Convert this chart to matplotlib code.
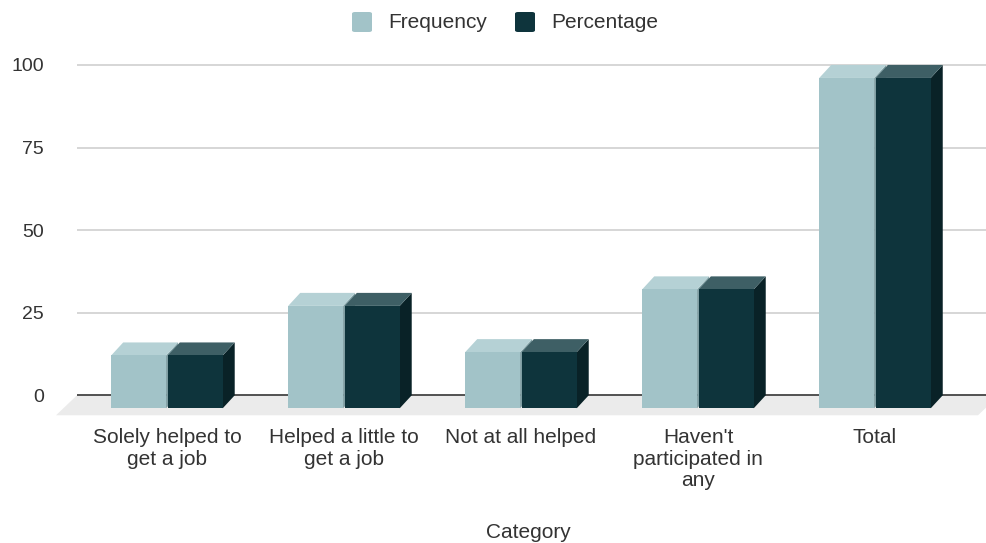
import matplotlib
matplotlib.use("Agg")
import matplotlib.pyplot as plt
from matplotlib.patches import Polygon, FancyBboxPatch
from matplotlib.transforms import offset_copy

categories = ["Solely helped to\nget a job", "Helped a little to\nget a job",
              "Not at all helped", "Haven't\nparticipated in\nany", "Total"]
frequency = [16, 31, 17, 36, 100]
percentage = [16, 31, 17, 36, 100]
yticks = [0, 25, 50, 75, 100]
series_names = ["Frequency", "Percentage"]

# face colours: front, top, side
freq_cols = ("#a2c3c8", "#b5d1d5", "#7f9ea3")
perc_cols = ("#0e343c", "#3e5f65", "#092227")

FONT = "Liberation Sans"
TXT = "#333333"

W, H = 987, 543
fig = plt.figure(figsize=(W / 100, H / 100), dpi=100)
ax = fig.add_axes([77 / W, 1 - 420 / H, 910 / W, 360 / H])
xlim = (-0.576, 4.565)
ylim = (-7.48, 101.5)
ax.set_xlim(*xlim)
ax.set_ylim(*ylim)

# pixel -> data unit conversion for the 3d depth
px_x = 910 / (xlim[1] - xlim[0])
px_y = 360 / (ylim[1] - ylim[0])
DX, DY = 12 / px_x, 13 / px_y

for s in ax.spines.values():
    s.set_visible(False)
ax.set_xticks([])
ax.set_yticks(yticks)
ax.tick_params(axis="y", length=0, pad=24, labelsize=14, labelcolor=TXT)
for lab in ax.get_yticklabels():
    lab.set_fontfamily(FONT)
for t in yticks[1:]:
    ax.axhline(t, color="#d0d0d0", lw=1.2, zorder=1)

# floor
fx0, fx1 = xlim[0], xlim[1] + 12 / px_x
fd_x, fd_y = 21 / px_x, 20 / px_y
ax.add_patch(Polygon([(fx0, 0), (fx1, 0), (fx1 - fd_x, -fd_y), (fx0 - fd_x, -fd_y)],
                     closed=True, facecolor="#ebebeb", edgecolor="none",
                     zorder=0, clip_on=False))
ax.axhline(0, color="#444444", lw=1.3, zorder=2)


def box(xc, w, h, cols, z):
    front, top, side = cols
    x0, x1 = xc - w / 2, xc + w / 2
    fy0, fy1 = -DY, h - DY
    ax.add_patch(Polygon([(x1 - DX, fy0), (x1, 0), (x1, h), (x1 - DX, fy1)],
                         closed=True, facecolor=side, edgecolor="none",
                         zorder=z, clip_on=False))
    ax.add_patch(Polygon([(x0 - DX, fy1), (x1 - DX, fy1), (x1, h), (x0, h)],
                         closed=True, facecolor=top, edgecolor="none",
                         zorder=z, clip_on=False))
    ax.add_patch(Polygon([(x0 - DX, fy0), (x1 - DX, fy0), (x1 - DX, fy1), (x0 - DX, fy1)],
                         closed=True, facecolor=front, edgecolor="none",
                         zorder=z + 0.1, clip_on=False))


bw, off = 0.31, 0.16
for i in range(len(categories)):
    box(i - off, bw, frequency[i], freq_cols, 3 + i)
    box(i + off, bw, percentage[i], perc_cols, 3.5 + i)

# category labels sit under the front faces
lab_tr = offset_copy(ax.transData, fig=fig, x=-12, y=0, units="dots")
for i, c in enumerate(categories):
    ax.text(i, -9.9, c, transform=lab_tr, ha="center", va="top",
            multialignment="center", fontsize=15, color=TXT,
            fontfamily=FONT, linespacing=1.17, clip_on=False)

fig.text(528 / W, 1 - 532 / H, "Category", ha="center", va="center",
         fontsize=15, color=TXT, fontfamily=FONT)

# legend
for (sx, tx), name, col in zip([(352, 388), (515, 551)], series_names,
                               [freq_cols[0], perc_cols[0]]):
    fig.patches.append(FancyBboxPatch((sx / W, 1 - 32 / H), 20 / W, 20 / H,
                                      boxstyle="round,pad=0,rounding_size=0.003",
                                      transform=fig.transFigure,
                                      facecolor=col, edgecolor="none"))
    fig.text(tx / W, 1 - 22 / H, name, ha="left", va="center",
             fontsize=15, color=TXT, fontfamily=FONT)

fig.savefig("out.png", dpi=100)
